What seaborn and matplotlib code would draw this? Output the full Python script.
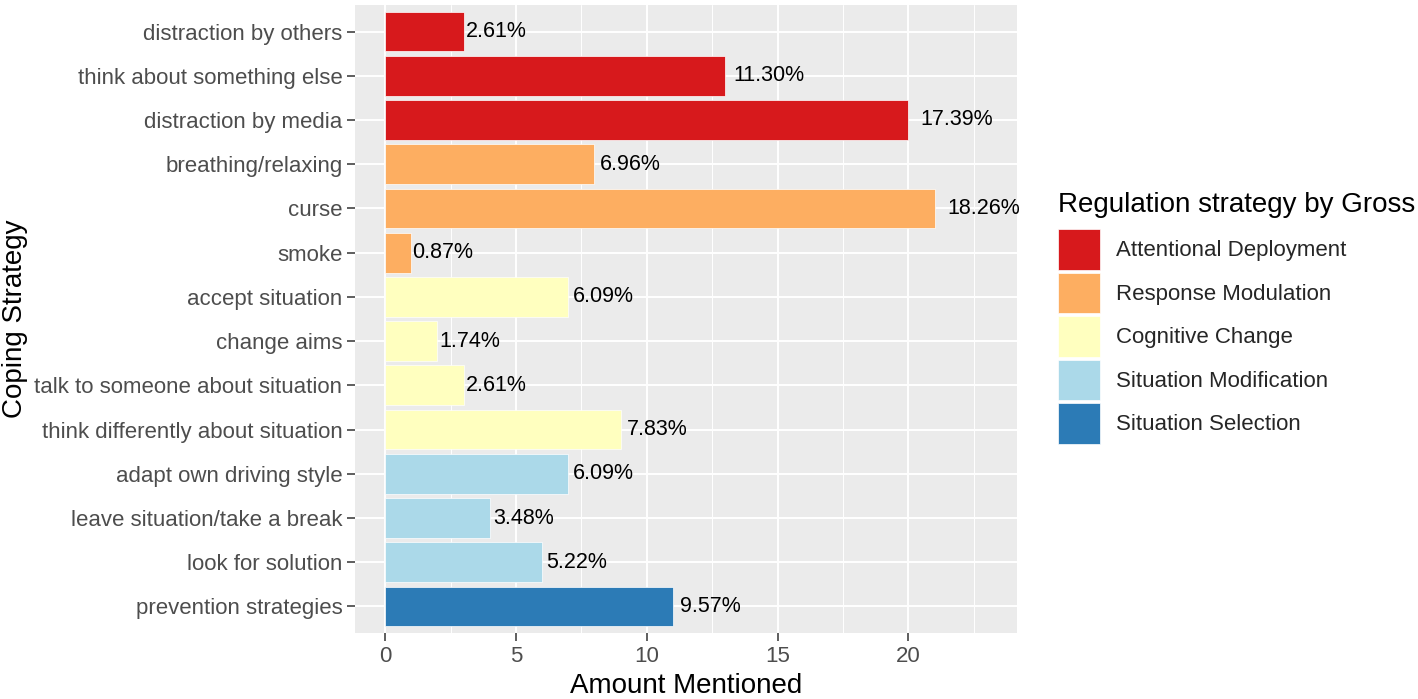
import numpy as np
import pandas as pd
import matplotlib
matplotlib.use("Agg")
import matplotlib.pyplot as plt
import seaborn as sns

# data
strategies = [
    "distraction by others", "think about something else", "distraction by media",
    "breathing/relaxing", "curse", "smoke",
    "accept situation", "change aims", "talk to someone about situation",
    "think differently about situation",
    "adapt own driving style", "leave situation/take a break", "look for solution",
    "prevention strategies",
]
counts = [3, 13, 20, 8, 21, 1, 7, 2, 3, 9, 7, 4, 6, 11]
groups = (["Attentional Deployment"] * 3 + ["Response Modulation"] * 3
          + ["Cognitive Change"] * 4 + ["Situation Modification"] * 3
          + ["Situation Selection"])
group_order = ["Attentional Deployment", "Response Modulation", "Cognitive Change",
               "Situation Modification", "Situation Selection"]
group_colors = ["#D7191C", "#FDAE61", "#FFFFBF", "#ABD9E9", "#2C7BB6"]

df = pd.DataFrame({"strategy": strategies, "count": counts, "group": groups})
df["pct"] = df["count"] / df["count"].sum() * 100

sns.set_theme(style="darkgrid", rc={"axes.facecolor": "#EBEBEB", "grid.color": "white"})
plt.rcParams["font.family"] = ["Liberation Sans", "DejaVu Sans"]

fig = plt.figure(figsize=(14.18, 6.99), dpi=100)
ax = fig.add_axes([355 / 1418, 1 - 633 / 699, (1017 - 355) / 1418, (633 - 5) / 699])

sns.barplot(data=df, x="count", y="strategy", hue="group", hue_order=group_order,
            palette=dict(zip(group_order, group_colors)), order=strategies,
            dodge=False, width=0.9, orient="h", ax=ax, edgecolor="white", linewidth=0.5,
            saturation=1, legend=True)

for i, row in df.iterrows():
    ax.text(row["count"] * 1.022 + 0.03, i, f"{row['pct']:.2f}%", va="center", ha="left",
            fontsize=15.5, color="black")

ax.set_xlim(-1.15, 24.15)
ax.set_ylim(13.6, -0.6)
ax.set_xticks([0, 5, 10, 15, 20])
ax.set_xticks([2.5, 7.5, 12.5, 17.5, 22.5], minor=True)
ax.grid(which="major", axis="both", color="white", linewidth=1.4)
ax.grid(which="minor", axis="x", color="white", linewidth=0.7)
ax.set_axisbelow(True)
for s in ax.spines.values():
    s.set_visible(False)
ax.tick_params(axis="both", which="major", length=6, width=1.1, color="#333333",
               labelsize=16, labelcolor="#4D4D4D", pad=3, bottom=True, left=True)
ax.tick_params(axis="x", which="minor", length=0)
ax.set_xlabel("Amount Mentioned", fontsize=20, color="black", labelpad=5)
ax.set_ylabel("Coping Strategy", fontsize=20, color="black", labelpad=5)

handles, labels = ax.get_legend_handles_labels()
ax.get_legend().remove()
fig.text(1058 / 1418, 1 - 205 / 699, "Regulation strategy by Gross", fontsize=20,
         ha="left", va="center", color="black")
leg = fig.legend(handles, labels, loc="upper left",
                 bbox_to_anchor=(1058 / 1418, 1 - 229 / 699),
                 frameon=False, fontsize=16,
                 handlelength=1.9, handleheight=2.45, labelspacing=0.12,
                 handletextpad=0.7, borderaxespad=0, borderpad=0)

fig.savefig("out.png", dpi=100)
